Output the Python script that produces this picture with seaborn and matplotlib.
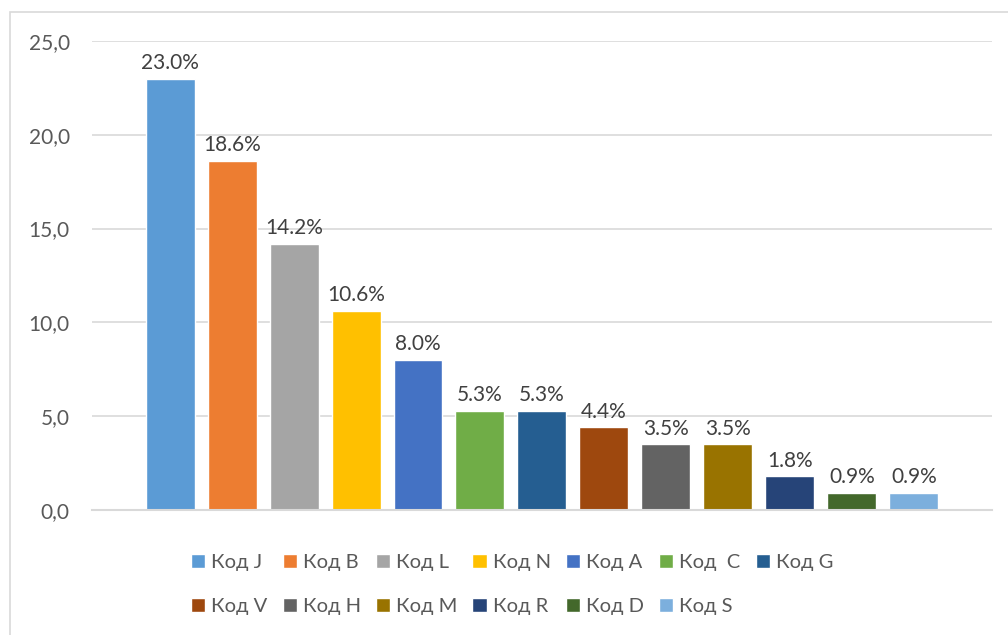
import pandas as pd
import matplotlib.pyplot as plt
import seaborn as sns
from matplotlib.patches import Patch, Rectangle

# Data
codes = ['Код J', 'Код B', 'Код L', 'Код N', 'Код A', 'Код  C', 'Код G',
         'Код V', 'Код H', 'Код M', 'Код R', 'Код D', 'Код S']
values = [23.0, 18.6, 14.2, 10.6, 8.0, 5.3, 5.3, 4.4, 3.5, 3.5, 1.8, 0.9, 0.9]
colors = ['#5B9BD5', '#ED7D31', '#A5A5A5', '#FFC000', '#4472C4', '#70AD47', '#255E91',
          '#9E480E', '#636363', '#997300', '#264478', '#43682B', '#7CAFDD']
yticks = [0, 5, 10, 15, 20, 25]

df = pd.DataFrame({'code': codes, 'value': values})

sns.set_style('white')
plt.rcParams['font.family'] = ['Lato', 'DejaVu Sans']

fig = plt.figure(figsize=(10.08, 6.35), dpi=100)
ax = fig.add_axes([0.0913, 0.197, 0.8927, 0.7384])

sns.barplot(data=df, x='code', y='value', hue='code', palette=colors,
            order=codes, hue_order=codes, legend=False, width=0.79,
            saturation=1, ax=ax)

# data labels
for i, v in enumerate(values):
    ax.text(i, v + 0.3, f'{v:.1f}%', ha='center', va='bottom',
            fontsize=15, color='#404040')

ax.set_ylim(0, 25)
ax.set_xlim(-1.26, 13.26)
ax.set_yticks(yticks)
ax.set_yticklabels([f'{t:.1f}'.replace('.', ',') for t in yticks], fontsize=15, color='#595959')
ax.set_xticks([])
ax.set_xlabel('')
ax.set_ylabel('')
ax.yaxis.grid(True, color='#D9D9D9', linewidth=1.2)
ax.set_axisbelow(True)
ax.tick_params(axis='y', length=0, pad=16)
for s in ['top', 'right', 'left']:
    ax.spines[s].set_visible(False)
ax.spines['bottom'].set_color('#D9D9D9')
ax.spines['bottom'].set_linewidth(1.5)

# legend: two rows, filled row by row
order = [0, 7, 1, 8, 2, 9, 3, 10, 4, 11, 5, 12, 6]
handles = [Patch(facecolor=colors[i], label=codes[i]) for i in order]
fig.legend(handles=handles, loc='center', bbox_to_anchor=(0.508, 0.08), ncol=7,
           frameon=False, fontsize=14.5, labelcolor='#595959', handlelength=0.7,
           handleheight=0.7, handletextpad=0.3, columnspacing=0.75, labelspacing=1.35)

# chart border
fig.patches.append(Rectangle((0.0099, -0.1), 1.1, 1.081, transform=fig.transFigure,
                             fill=False, edgecolor='#D9D9D9', linewidth=1.2))

fig.savefig('out.png', dpi=100, facecolor='white')
